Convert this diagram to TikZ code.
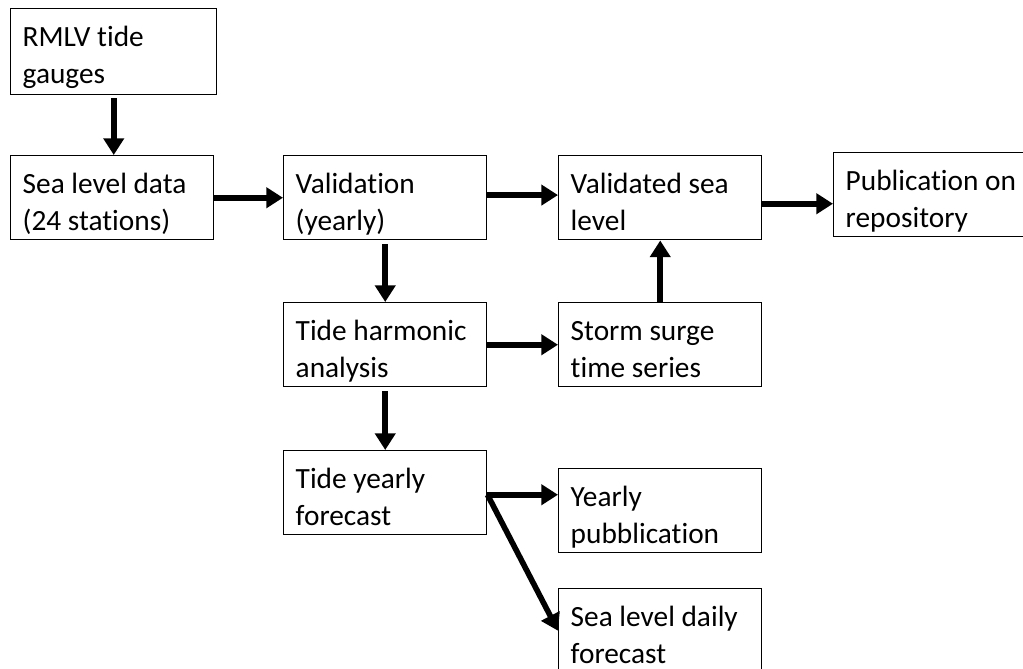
\documentclass[tikz,border=0pt]{standalone}
\usepackage{fontspec}
\setmainfont{Carlito}[RawFeature=-liga]
\usetikzlibrary{arrows.meta}
\begin{document}
\begin{tikzpicture}[x=0.75pt,y=-0.75pt,
  box/.style={draw=black, line width=1.1pt, anchor=north west, align=flush left,
    text width=134.25pt, inner xsep=9pt, inner ysep=0pt,
    text height=28pt, text depth=35pt,
    font=\fontsize{22pt}{27.75pt}\selectfont},
  arr/.style={line width=4.2pt, -{Triangle[length=12.5pt,width=15pt]}}]
\useasboundingbox[fill=white] (0,0) rectangle (1023,668);
\node[box, text width=136.5pt, text depth=36.5pt] (rmlv) at (10,8) {RMLV tide\\gauges};
\node[box] (sea) at (10,155) {Sea level data\\(24 stations)};
\node[box] (val) at (283,155) {Validation\\(yearly)};
\node[box] (vsl) at (558,155) {Validated sea\\level};
\node[box] (pub) at (833,152) {Publication on\\repository};
\node[box] (th) at (283,302) {Tide harmonic\\analysis};
\node[box] (ss) at (558,302) {Storm surge\\time series};
\node[box] (ty) at (283,450) {Tide yearly\\forecast};
\node[box] (yp) at (558,468) {Yearly\\pubblication};
\node[box] (sld) at (558,588) {Sea level daily\\forecast};
\draw[arr] ([yshift=-2.25pt]rmlv.south) -- (rmlv.south |- sea.north);
\draw[arr] (sea.east) -- (val.west);
\draw[arr] ([yshift=2pt]val.east) -- ([yshift=2pt]val.east -| vsl.west);
\draw[arr] ([yshift=-4.5pt]vsl.east) -- ([yshift=-4.5pt]vsl.east -| pub.west);
\draw[arr] ([yshift=-3pt]val.south) -- (th.north);
\draw[arr] (th.east) -- (ss.west);
\draw[arr] (ss.north) -- (vsl.south);
\draw[arr] ([yshift=-3pt]th.south) -- (ty.north);
\draw[arr] ([yshift=-1.5pt]ty.east) -- ([yshift=-1.5pt]ty.east -| yp.west);
\draw[arr] ([yshift=-1.5pt]ty.east) -- (sld.west);
\end{tikzpicture}
\end{document}
